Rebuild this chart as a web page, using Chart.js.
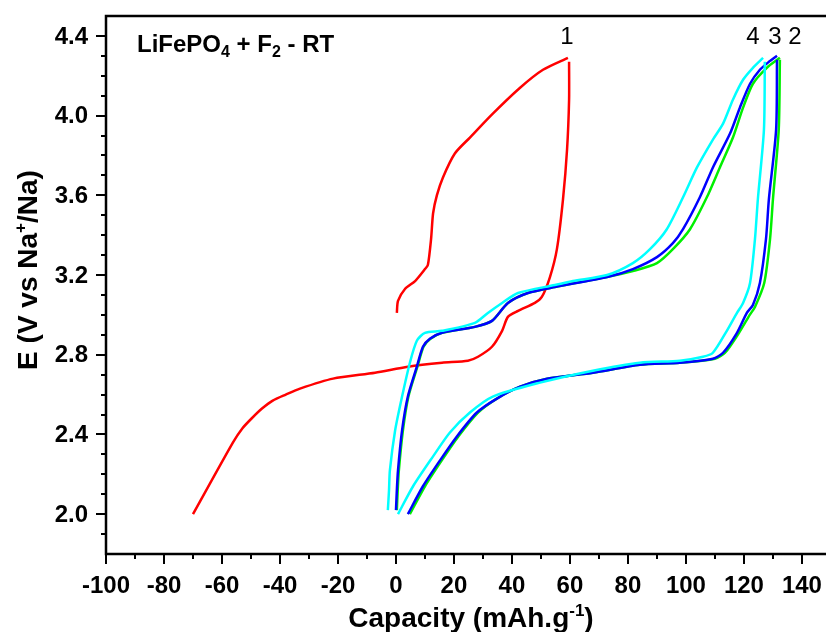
<!DOCTYPE html>
<html>
<head>
<meta charset="utf-8">
<script src="https://cdn.jsdelivr.net/npm/chart.js@4.4.1/dist/chart.umd.min.js"></script>
<style>
  html, body { margin: 0; padding: 0; background: #fff; overflow: hidden; }
</style>
</head>
<body>
<canvas id="chart" width="826" height="632"></canvas>
<script>
/* ── Data (capacity in mAh/g, potential in V) ───────────────────────── */
const xTickValues = [-100, -80, -60, -40, -20, 0, 20, 40, 60, 80, 100, 120, 140];
const yTickValues = [2.0, 2.4, 2.8, 3.2, 3.6, 4.0, 4.4];
const yTickLabels = ['2.0', '2.4', '2.8', '3.2', '3.6', '4.0', '4.4'];

// cycle 1 (red)
const c1ChargeCap = [0.3, 0.7, 3.1, 6.6, 10.0, 11.0, 12.1, 12.8, 14.1, 16.2, 20.3, 25.5, 33.4, 42.8, 50.7, 59.3];
const c1ChargeE   = [3.01, 3.07, 3.13, 3.17, 3.23, 3.25, 3.38, 3.51, 3.60, 3.69, 3.81, 3.89, 4.01, 4.14, 4.23, 4.29];
const c1DischCap  = [59.7, 59.7, 59.0, 57.6, 55.5, 53.1, 50.3, 47.9, 42.1, 38.6, 36.6, 33.1, 28.3, 24.8, 15.9, 4.1, -7.2, -21.7, -33.1, -38.0, -42.5, -46.2, -49.8, -53.0, -56.2, -70.0];
const c1DischE    = [4.27, 4.08, 3.83, 3.58, 3.33, 3.19, 3.09, 3.06, 3.02, 2.99, 2.92, 2.84, 2.79, 2.77, 2.76, 2.74, 2.71, 2.68, 2.63, 2.60, 2.57, 2.53, 2.48, 2.43, 2.36, 2.00];

// cycle 2 (green)
const c2ChargeCap = [0.3, 0.6, 1.0, 2.4, 4.3, 7.4, 9.5, 11.9, 15.9, 27.2, 33.1, 38.6, 45.5, 54.8, 72.8, 81.7, 90.0, 95.5, 101.4, 107.2, 111.7, 116.2, 119.7, 123.1, 127.9, 132.4];
const c2ChargeE   = [2.02, 2.12, 2.22, 2.42, 2.59, 2.74, 2.84, 2.88, 2.91, 2.94, 2.97, 3.06, 3.11, 3.14, 3.19, 3.22, 3.26, 3.33, 3.43, 3.59, 3.74, 3.89, 4.04, 4.16, 4.24, 4.29];
const c2DischCap  = [132.4, 132.0, 130.0, 129.0, 127.0, 123.8, 122.0, 118.3, 113.5, 110.0, 97.9, 84.1, 67.9, 52.1, 42.8, 34.8, 28.3, 21.5, 15.8, 10.0, 4.8];
const c2DischE    = [4.28, 3.93, 3.58, 3.38, 3.16, 3.04, 3.00, 2.91, 2.81, 2.78, 2.76, 2.75, 2.71, 2.68, 2.64, 2.58, 2.51, 2.39, 2.27, 2.14, 2.00];

// cycle 3 (blue)
const c3ChargeCap = [0.0, 0.3, 0.7, 2.1, 4.1, 7.2, 9.3, 11.7, 15.9, 27.2, 33.1, 38.6, 45.5, 54.8, 72.8, 81.7, 90.0, 95.5, 99.0, 104.8, 109.3, 115.2, 118.6, 122.1, 125.5, 128.6, 131.4];
const c3ChargeE   = [2.02, 2.12, 2.22, 2.42, 2.59, 2.74, 2.84, 2.88, 2.91, 2.94, 2.97, 3.06, 3.11, 3.14, 3.19, 3.23, 3.29, 3.36, 3.43, 3.59, 3.74, 3.91, 4.04, 4.16, 4.23, 4.27, 4.30];
const c3DischCap  = [131.4, 131.1, 128.6, 127.6, 125.5, 123.1, 121.0, 117.6, 112.8, 109.3, 97.9, 84.1, 67.9, 52.1, 42.8, 34.8, 27.9, 21.0, 15.2, 9.3, 4.1];
const c3DischE    = [4.28, 3.93, 3.58, 3.38, 3.16, 3.05, 3.01, 2.91, 2.81, 2.78, 2.76, 2.75, 2.71, 2.68, 2.64, 2.58, 2.51, 2.39, 2.27, 2.14, 2.00];

// cycle 4 (cyan)
const c4ChargeCap = [-2.8, -2.4, -2.1, -0.3, 2.1, 4.8, 7.2, 10.0, 15.9, 27.2, 31.7, 36.6, 42.1, 54.8, 61.0, 72.8, 81.7, 87.6, 93.4, 99.0, 103.8, 109.3, 112.8, 116.2, 119.7, 123.1, 126.6];
const c4ChargeE   = [2.02, 2.12, 2.22, 2.42, 2.59, 2.76, 2.87, 2.91, 2.92, 2.96, 3.01, 3.06, 3.11, 3.15, 3.17, 3.20, 3.26, 3.33, 3.43, 3.59, 3.74, 3.88, 3.96, 4.08, 4.18, 4.24, 4.29];
const c4DischCap  = [127.2, 126.9, 124.8, 123.8, 122.1, 119.7, 117.6, 114.1, 109.3, 105.9, 97.9, 84.1, 67.9, 49.7, 33.4, 25.5, 18.6, 12.8, 5.9, 0.7];
const c4DischE    = [4.27, 3.93, 3.58, 3.38, 3.16, 3.06, 3.01, 2.92, 2.81, 2.79, 2.77, 2.76, 2.72, 2.66, 2.59, 2.51, 2.41, 2.29, 2.14, 2.00];

const FONT = "'Liberation Sans', Arial, sans-serif";

function toPoints(caps, es) {
    return caps.map((c, i) => ({ x: c, y: es[i] }));
}

function curve(caps, es, color, order) {
    return {
        data: toPoints(caps, es),
        borderColor: color,
        borderWidth: 2.5,
        pointRadius: 0,
        showLine: true,
        tension: 0.25,
        fill: false,
        order,
    };
}

// draw text made of pieces with different sizes (sub/superscripts)
function drawRich(ctx, parts, x, y, align) {
    let total = 0;
    parts.forEach(p => {
        ctx.font = `${p.w || 'bold'} ${p.s}px ${FONT}`;
        p.width = ctx.measureText(p.t).width;
        total += p.width;
    });
    let cx = align === 'center' ? x - total / 2 : x;
    parts.forEach(p => {
        ctx.font = `${p.w || 'bold'} ${p.s}px ${FONT}`;
        ctx.fillText(p.t, cx, y + (p.dy || 0));
        cx += p.width;
    });
}

/* ── Axes, ticks and labels ───────────────────────────────────────────── */
const axisFrame = {
    id: 'axisFrame',
    afterDraw(chart) {
        const { ctx, chartArea: a, scales: { x, y } } = chart;
        ctx.save();
        ctx.strokeStyle = '#000';
        ctx.fillStyle = '#000';

        // frame (left, bottom, top)
        ctx.lineWidth = 2.5;
        ctx.beginPath();
        ctx.moveTo(a.right, a.top);
        ctx.lineTo(a.left, a.top);
        ctx.lineTo(a.left, a.bottom);
        ctx.lineTo(a.right, a.bottom);
        ctx.stroke();

        // x ticks: major every 20, minor every 10
        ctx.lineWidth = 2;
        ctx.beginPath();
        for (let v = -100; v <= x.max; v += 10) {
            const px = Math.round(x.getPixelForValue(v));
            const len = v % 20 === 0 ? 10 : 5;
            ctx.moveTo(px, a.bottom);
            ctx.lineTo(px, a.bottom + len);
        }
        // y ticks: major every 0.4, minor every 0.1
        for (let k = 19; k <= 44; k++) {
            const v = k / 10;
            const py = Math.round(y.getPixelForValue(v));
            const len = (k - 20) % 4 === 0 ? 10 : 5;
            ctx.moveTo(a.left, py);
            ctx.lineTo(a.left - len, py);
        }
        ctx.stroke();

        // tick labels
        ctx.font = `bold 24px ${FONT}`;
        ctx.textAlign = 'center';
        ctx.textBaseline = 'middle';
        xTickValues.forEach(v => {
            ctx.fillText(String(v), x.getPixelForValue(v), 586);
        });
        ctx.textAlign = 'right';
        yTickValues.forEach((v, i) => {
            ctx.fillText(yTickLabels[i], 88, y.getPixelForValue(v) + 1);
        });

        // axis titles
        ctx.textAlign = 'left';
        ctx.textBaseline = 'alphabetic';
        drawRich(ctx, [
            { t: 'Capacity (mAh.g', s: 28 },
            { t: '-1', s: 17, dy: -11 },
            { t: ')', s: 28 },
        ], 471, 627, 'center');

        ctx.save();
        ctx.translate(37, 270);
        ctx.rotate(-Math.PI / 2);
        drawRich(ctx, [
            { t: 'E (V vs Na', s: 28 },
            { t: '+', s: 17, dy: -11 },
            { t: '/Na)', s: 28 },
        ], 0, 0, 'center');
        ctx.restore();

        // panel title
        drawRich(ctx, [
            { t: 'LiFePO', s: 24 },
            { t: '4', s: 16, dy: 5 },
            { t: ' + F', s: 24 },
            { t: '2', s: 16, dy: 5 },
            { t: ' - RT', s: 24 },
        ], 137, 52, 'left');

        // cycle numbers
        ctx.font = `24px ${FONT}`;
        ctx.textAlign = 'center';
        ctx.fillText('1', 567, 44);
        ctx.fillText('4', 753, 44);
        ctx.fillText('3', 775, 44);
        ctx.fillText('2', 795, 44);

        ctx.restore();
    },
};

new Chart(document.getElementById('chart'), {
    type: 'scatter',
    data: {
        datasets: [
            curve(c1ChargeCap, c1ChargeE, '#ff0000', 4),
            curve(c1DischCap, c1DischE, '#ff0000', 4),
            curve(c2ChargeCap, c2ChargeE, '#00f000', 3),
            curve(c2DischCap, c2DischE, '#00f000', 3),
            curve(c3ChargeCap, c3ChargeE, '#0000ff', 2),
            curve(c3DischCap, c3DischE, '#0000ff', 2),
            curve(c4ChargeCap, c4ChargeE, '#00ffff', 1),
            curve(c4DischCap, c4DischE, '#00ffff', 1),
        ],
    },
    options: {
        responsive: false,
        animation: false,
        layout: { padding: { left: 106, top: 16, right: 0, bottom: 78 } },
        scales: {
            x: {
                type: 'linear',
                display: false,
                min: -100,
                max: 148.3,
            },
            y: {
                type: 'linear',
                display: false,
                min: 1.8,
                max: 4.5,
            },
        },
        plugins: {
            legend: { display: false },
            tooltip: { enabled: false },
        },
    },
    plugins: [axisFrame],
});
</script>
</body>
</html>
